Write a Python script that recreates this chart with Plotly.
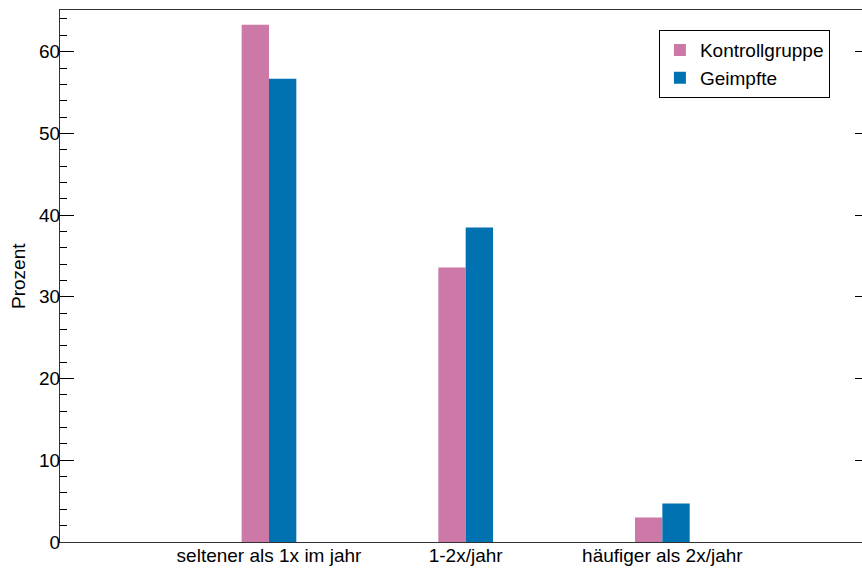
import plotly.graph_objects as go

# Häufigkeit pro Jahr, Anteil in Prozent
kategorien = ["seltener als 1x im jahr", "1-2x/jahr", "häufiger als 2x/jahr"]
kontrollgruppe = [63.3, 33.6, 3.0]
geimpfte = [56.7, 38.5, 4.7]

serien = [
    ("Kontrollgruppe", kontrollgruppe, "#CC79A7"),
    ("Geimpfte", geimpfte, "#0072B2"),
]

fig = go.Figure()
for name, werte, farbe in serien:
    fig.add_trace(go.Bar(
        x=kategorien, y=werte, name=name,
        marker=dict(color=farbe, line=dict(width=0)),
    ))

font = dict(family="Liberation Sans, Arial, sans-serif", size=19, color="black")

fig.update_layout(
    width=862, height=570,
    margin=dict(l=60, r=0, t=10, b=28),
    paper_bgcolor="white", plot_bgcolor="white",
    font=font,
    barmode="group", bargap=0.722, bargroupgap=0,
    showlegend=True,
    legend=dict(
        x=0.960, y=0.962, xanchor="right", yanchor="top",
        bordercolor="black", borderwidth=1, bgcolor="white",
        font=font, itemwidth=30, tracegroupgap=0,
    ),
    xaxis=dict(
        type="category", range=[-1.0625, 3.015],
        showline=True, linecolor="#333333", linewidth=1, mirror=True,
        ticks="", showgrid=False, zeroline=False,
        tickfont=font, ticklabelstandoff=-4,
    ),
    yaxis=dict(
        range=[0, 65.1], dtick=10,
        showline=True, linecolor="#333333", linewidth=1,
        ticks="inside", ticklen=14, tickcolor="black", tickwidth=1,
        minor=dict(dtick=2, ticks="inside", ticklen=7, tickcolor="black"),
        showgrid=False, zeroline=False,
        tickfont=font, ticklabelstandoff=-5,
    ),
    yaxis2=dict(
        overlaying="y", side="right", range=[0, 65.1], dtick=10,
        showline=False, showticklabels=False, showgrid=False, zeroline=False,
        ticks="inside", ticklen=7, tickcolor="black", tickwidth=1,
    ),
)

# Achsentitel links, senkrecht
fig.add_annotation(text="Prozent", xref="paper", yref="paper",
                   x=-0.0524, y=0.5, xanchor="center", yanchor="middle",
                   textangle=-90, showarrow=False, font=font)

# unsichtbare Spur, damit die rechte Achse mit ihren Strichen gezeichnet wird
fig.add_trace(go.Scatter(x=[kategorien[0]], y=[0], yaxis="y2", mode="markers",
                         marker=dict(opacity=0), showlegend=False, hoverinfo="skip"))

fig.write_html("out.html")
